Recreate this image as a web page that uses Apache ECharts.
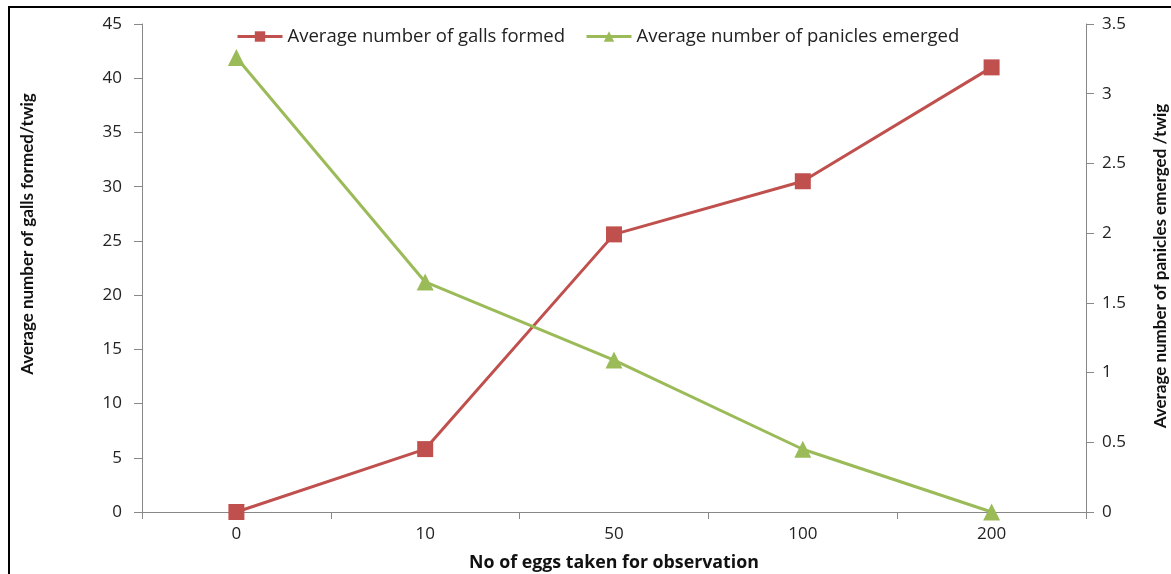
<!DOCTYPE html>
<html>
<head>
<meta charset="utf-8">
<script src="https://cdn.jsdelivr.net/npm/echarts@6/dist/echarts.min.js"></script>
<style>html,body{margin:0;padding:0;background:#fff}#c{width:1171px;height:574px}</style>
</head>
<body>
<div id="c"></div>
<script>
const categories = ['0', '10', '50', '100', '200'];
const galls = [0, 5.8, 25.6, 30.5, 41.0];
const panicles = [3.26, 1.65, 1.09, 0.45, 0];
const leftTicks = {min: 0, max: 45, interval: 5};
const rightTicks = {min: 0, max: 3.5, interval: 0.5};

const FONT = 'Open Sans';
const VFONT = 'Lato';
const chart = echarts.init(document.getElementById('c'));
chart.setOption({
  animation: false,
  backgroundColor: '#fff',
  textStyle: {fontFamily: FONT},
  grid: {left: 142, right: 85, top: 24, bottom: 62, containLabel: false, outerBoundsMode: 'none'},
  legend: {
    top: 27, left: 236, padding: 0,
    itemWidth: 45, itemHeight: 13, itemGap: 20,
    lineStyle: {width: 3},
    textStyle: {fontSize: 18.5, color: '#222', fontFamily: FONT},
    data: ['Average number of galls formed', 'Average number of panicles emerged']
  },
  xAxis: {
    type: 'category', data: categories, boundaryGap: true,
    axisLine: {lineStyle: {color: '#888'}},
    axisTick: {show: true, length: 7, lineStyle: {color: '#888'}, alignWithLabel: false},
    axisLabel: {fontSize: 17, color: '#222', margin: 14},
    name: 'No of eggs taken for observation', nameLocation: 'middle', nameGap: 42,
    nameTextStyle: {fontSize: 17.8, fontWeight: 'bold', color: '#111'}
  },
  yAxis: [
    {type: 'value', min: leftTicks.min, max: leftTicks.max, interval: leftTicks.interval,
     axisLine: {show: true, lineStyle: {color: '#888'}},
     axisTick: {show: true, length: 8, lineStyle: {color: '#888'}},
     splitLine: {show: false},
     axisLabel: {fontSize: 17, color: '#222', margin: 20}},
    {type: 'value', min: rightTicks.min, max: rightTicks.max, interval: rightTicks.interval,
     position: 'right',
     axisLine: {show: true, lineStyle: {color: '#888'}},
     axisTick: {show: true, length: 8, lineStyle: {color: '#888'}},
     splitLine: {show: false},
     axisLabel: {fontSize: 17, color: '#222', margin: 16}}
  ],
  series: [
    {name: 'Average number of galls formed', type: 'line', yAxisIndex: 0, data: galls,
     symbol: 'rect', symbolSize: 16, color: '#C0504D',
     lineStyle: {width: 3, color: '#C0504D'}, itemStyle: {color: '#C0504D'}},
    {name: 'Average number of panicles emerged', type: 'line', yAxisIndex: 1, data: panicles,
     symbol: 'triangle', symbolSize: 17, color: '#9BBB59',
     lineStyle: {width: 3, color: '#9BBB59'}, itemStyle: {color: '#9BBB59'}}
  ],
  graphic: [
    {type: 'rect', shape: {x: 9, y: 7, width: 1200, height: 600}, style: {fill: 'none', stroke: '#000', lineWidth: 2}, silent: true},
    {type: 'text', x: 28, y: 234, rotation: Math.PI / 2, style: {text: 'Average number of galls formed/twig', font: 'bold 17px ' + VFONT, fill: '#111', align: 'center', verticalAlign: 'middle'}},
    {type: 'text', x: 1161, y: 266, rotation: Math.PI / 2, style: {text: 'Average number of panicles emerged /twig', font: 'bold 17px ' + VFONT, fill: '#111', align: 'center', verticalAlign: 'middle'}}
  ]
});
</script>
</body>
</html>
